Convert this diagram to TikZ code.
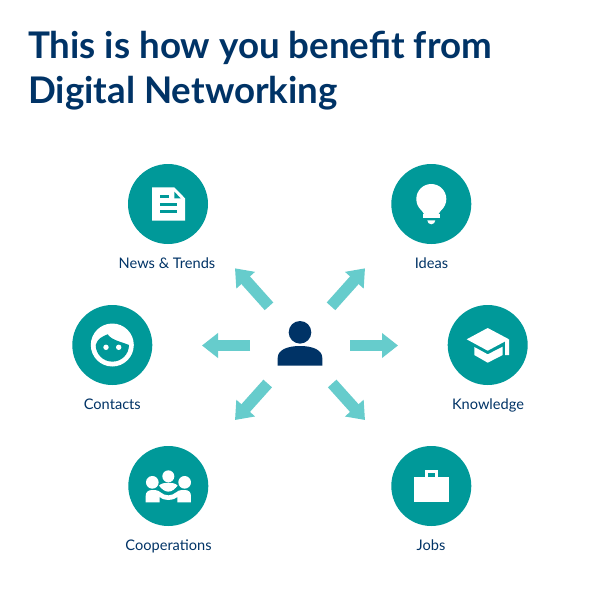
\documentclass[tikz,border=0pt]{standalone}
\usepackage{fontspec}
\setmainfont{Lato}
\usetikzlibrary{arrows.meta}
\definecolor{teal1}{HTML}{009999}
\definecolor{aqua1}{HTML}{66CCCC}
\definecolor{navy1}{HTML}{003366}
\tikzset{
  x=1pt,y=-1pt,
  disc/.style={circle,fill=teal1,minimum size=80pt,inner sep=0pt,outer sep=0pt},
  lbl/.style={anchor=base,text=navy1,inner sep=0pt,font=\fontsize{14.6}{15}\selectfont},
  ttl/.style={anchor=base west,text=navy1,inner sep=0pt,font=\fontsize{36.7}{37}\selectfont\bfseries},
  flow/.style={draw=aqua1,line width=11.5pt,-{Triangle[length=16pt,width=24pt,fill=aqua1]}},
  ico/.style={fill=white},
  icocut/.style={fill=teal1},
  zoomed/.style={x=0.3333pt,y=-0.3333pt}
}
\begin{document}
\begin{tikzpicture}
\useasboundingbox (0,0) rectangle (600,600);
\fill[white] (0,0) rectangle (600,600);
% title
\node[ttl] (t1) at (28,58) {This is how you benefit from};
\node[ttl] (t2) at (28,103) {Digital Networking};
% discs
\node[disc] (news) at (168,204) {};
\node[disc] (ideas) at (431.3,204) {};
\node[disc] (contacts) at (112.3,345) {};
\node[disc] (knowledge) at (487.7,345) {};
\node[disc] (coop) at (168.3,486) {};
\node[disc] (jobs) at (431.3,486) {};
% labels
\node[lbl] (lnews) at (167,268) {News \& Trends};
\node[lbl] (lideas) at (431.5,268) {Ideas};
\node[lbl] (lcontacts) at (112.3,409) {Contacts};
\node[lbl] (lknow) at (488,409) {Knowledge};
\node[lbl] (lcoop) at (168.5,550) {Cooperations};
\node[lbl] (ljobs) at (431,550) {Jobs};
% arrows
\coordinate (aUL) at (269,306.3); \coordinate (bUL) at (235,268.3);
\coordinate (aUR) at (331,306.3); \coordinate (bUR) at (365,268.3);
\coordinate (aLL) at (267.7,383.5); \coordinate (bLL) at (235,420);
\coordinate (aLR) at (332.2,383.5); \coordinate (bLR) at (365,420);
\coordinate (aR) at (350,345.5); \coordinate (bR) at (398,345.5);
\coordinate (aL) at (250,345.5); \coordinate (bL) at (202,345.5);
\foreach \s in {UL,UR,LL,LR,R,L} \draw[flow] (a\s) -- (b\s);
% person
\fill[navy1] (300,332.3) circle[radius=11.3];
\fill[navy1] (277.7,365.7) -- (277.7,358) .. controls (277.7,350) and (287,346) .. (300,346)
  .. controls (313,346) and (322.3,350) .. (322.3,358) -- (322.3,365.7) -- cycle;
% news icon
\fill[ico] (152,187.3) -- (174.3,187.3) -- (185,198.3) -- (185,220.7) -- (152,220.7) -- cycle;
\fill[icocut] (174.3,191.7) -- (180.7,198.3) -- (174.3,198.3) -- cycle;
\fill[icocut] (160,195) rectangle (168.7,198.3);
\fill[icocut] (160,202.7) rectangle (177.3,206);
\fill[icocut] (160,210) rectangle (177.3,213.3);
% bulb icon
\fill[ico] (431.3,199) circle[radius=15];
\fill[ico] (420,208) -- (442.6,208) -- (438.5,214) -- (424,214) -- cycle;
\fill[ico] (423,214) rectangle (439.7,218.3);
\fill[ico] (435.3,220.3) arc[start angle=0,end angle=180,radius=4] -- cycle;
% face icon
\fill[ico] (112.3,345) circle[radius=21.5];
\fill[icocut] (95.7,345) .. controls (97,339) and (103,336) .. (107.7,334.3)
  .. controls (111,340) and (122,342) .. (129,345)
  arc[start angle=0,end angle=180,radius=16.65] -- cycle;
\fill[ico] (106,347.3) circle[radius=2.7];
\fill[ico] (118.7,347.3) circle[radius=2.7];
% cap icon
\fill[ico] (466.7,339.3) -- (487.7,328) -- (509,339.3) -- (487.7,350.7) -- cycle;
\fill[ico] (505,341) -- (509,339.3) -- (509,355) -- (505,355) -- cycle;
\fill[ico] (474.3,347) -- (487.7,354.3) -- (502.7,346.7) -- (502.7,355) -- (487.7,362.7) -- (474.3,355) -- cycle;
% coop icon
\begin{scope}[shift={(110,440)},zoomed]
\fill[ico] (175,109) circle[radius=18];
\fill[ico] (127,127) circle[radius=19];
\fill[ico] (224,127) circle[radius=19];
\fill[ico] (107,187) -- (107,168) .. controls (107,156) and (115,150) .. (127,150) -- (135,150)
  .. controls (150,150) and (155,166) .. (175,166) .. controls (195,166) and (200,150) .. (215,150)
  -- (224,150) .. controls (236,150) and (243,156) .. (243,168) -- (243,187) -- (202,187) -- (202,171)
  .. controls (192,178) and (185,180) .. (175,180) .. controls (165,180) and (158,178) .. (149,171)
  -- (149,187) -- cycle;
\fill[ico] (147,137) .. controls (153,130) and (165,128) .. (175,128) .. controls (185,128) and (197,130) .. (203,137)
  .. controls (195,146) and (187,155) .. (175,155) .. controls (163,155) and (155,146) .. (147,137) -- cycle;
\end{scope}
% jobs icon
\fill[ico] (414.3,476.7) rectangle (448.7,502);
\fill[ico] (424.7,470) rectangle (438.3,476.7);
\fill[icocut] (428,473.3) rectangle (435,476.7);
\end{tikzpicture}
\end{document}
